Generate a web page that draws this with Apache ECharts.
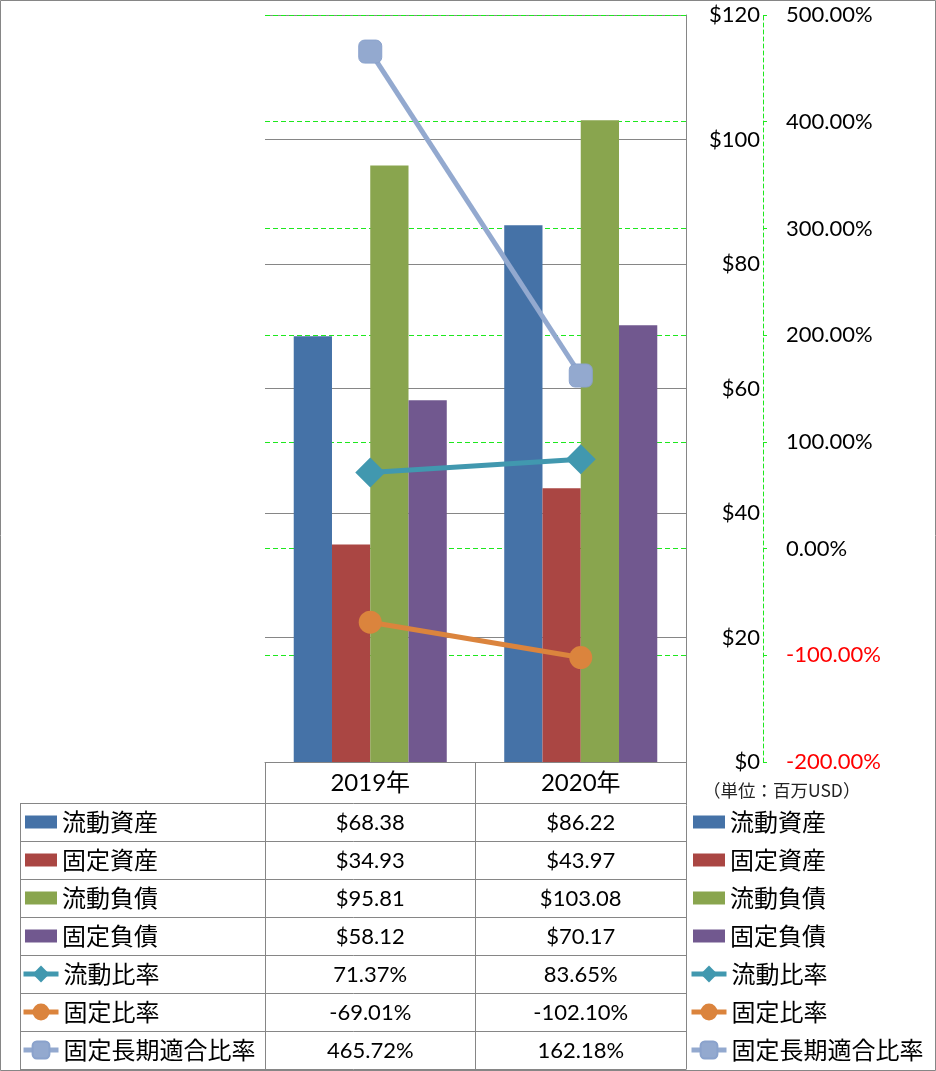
<!DOCTYPE html>
<html><head><meta charset="utf-8">
<script src="https://cdn.jsdelivr.net/npm/echarts@6/dist/echarts.min.js"></script>
<style>html,body{margin:0;padding:0;background:#fff}#c{width:936px;height:1071px}</style>
</head><body><div id="c"></div>
<script>
// ---- data ----
const categories = ['2019年', '2020年'];
const currentAssets = [68.38, 86.22];
const fixedAssets = [34.93, 43.97];
const currentLiabilities = [95.81, 103.08];
const fixedLiabilities = [58.12, 70.17];
const currentRatio = [71.37, 83.65];
const fixedRatio = [-69.01, -102.10];
const longTermFixedRatio = [465.72, 162.18];
const barNames = ['流動資産', '固定資産', '流動負債', '固定負債'];
const lineNames = ['流動比率', '固定比率', '固定長期適合比率'];
const unitLabel = '（単位：百万USD）';
const moneyTicks = { min: 0, max: 120, interval: 20 };
const pctTicks = { min: -200, max: 500, interval: 100 };

// ---- layout / style ----
const CJK = "'Noto Sans CJK JP'";
const LAT = "Lato, 'Noto Sans CJK JP'";
const GRAY = '#868686';
const GREEN = '#1ee81e';
const PL = 265, PR = 686, PT = 15, PB = 762;
const ROW0 = 803, ROWH = 38;
const colCenters = [PL + (PR - PL) / 4, PL + 3 * (PR - PL) / 4];
const barColors = ['#4572A7', '#AA4643', '#89A54E', '#71588F'];
const lineColors = ['#4198AF', '#DB843D', '#93A9CF'];

const barData = [currentAssets, fixedAssets, currentLiabilities, fixedLiabilities];
const lineData = [currentRatio, fixedRatio, longTermFixedRatio];
const symbols = ['diamond', 'circle', 'roundRect'];
const symbolSizes = [30, 23, 23];

const series = [];
barNames.forEach((n, i) => series.push({
  name: n, type: 'bar', data: barData[i], yAxisIndex: 0,
  barGap: '0%', barCategoryGap: '27.3%',
  itemStyle: { color: barColors[i] }
}));
lineNames.forEach((n, i) => series.push({
  name: n, type: 'line', data: lineData[i], yAxisIndex: 1, z: 5,
  symbol: symbols[i], symbolSize: symbolSizes[i],
  lineStyle: { color: lineColors[i], width: 5 },
  itemStyle: { color: lineColors[i], borderColor: i === 2 ? '#8aa2cc' : lineColors[i], borderWidth: i === 2 ? 1 : 0 }
}));

// table graphics
const graphic = [];
const ln = (x1, y1, x2, y2) => graphic.push({
  type: 'line', silent: true, z: 10,
  shape: { x1, y1, x2, y2 }, style: { stroke: GRAY, lineWidth: 1 }
});
for (let r = 0; r <= 7; r++) { const y = ROW0 + r * ROWH + 0.5; ln(20, y, PR + 0.5, y); }
ln(20.5, ROW0, 20.5, ROW0 + 7 * ROWH);
ln(PL + 0.5, PB, PL + 0.5, ROW0 + 7 * ROWH);
ln(475.5, PB, 475.5, ROW0 + 7 * ROWH);
ln(PR + 0.5, PT, PR + 0.5, ROW0 + 7 * ROWH);
graphic.push({ type: 'rect', silent: true, z: 10, shape: { x: 0.5, y: 0.5, width: 935, height: 1070 },
  style: { fill: 'none', stroke: GRAY, lineWidth: 1 } });

const fmtMoney = v => '$' + v.toFixed(2);
const fmtPct = v => v.toFixed(2) + '%';
const rows = barData.map(a => a.map(fmtMoney)).concat(lineData.map(a => a.map(fmtPct)));
rows.forEach((row, r) => row.forEach((t, c) => graphic.push({
  type: 'text', silent: true, z: 10,
  style: { text: t, x: colCenters[c], y: ROW0 + r * ROWH + 19.5, align: 'center', verticalAlign: 'middle',
    fontSize: 22, fontFamily: LAT, fill: '#000' }
})));
graphic.push({ type: 'text', silent: true, z: 10,
  style: { text: unitLabel, x: 703, y: 790, align: 'left', verticalAlign: 'middle',
    fontSize: 17.5, fontFamily: CJK, fill: '#222' } });

const legendText = { fontSize: 24, lineHeight: 24, fontFamily: CJK, color: '#000' };
const mkLegend = (data, left, top, w, h, icon) => Object.assign({
  data, left, top, orient: 'vertical', itemWidth: w, itemHeight: h, itemGap: 14,
  padding: 0, selectedMode: false, textStyle: legendText,
  lineStyle: { width: 5 }
}, icon ? { icon } : {});

const option = {
  animation: false,
  grid: { left: PL, right: 936 - PR, top: PT, bottom: 1071 - PB, containLabel: false },
  xAxis: {
    type: 'category', data: categories,
    axisLine: { show: true, lineStyle: { color: GRAY, width: 1 } },
    axisTick: { show: false },
    axisLabel: { fontSize: 24, fontFamily: LAT, color: '#000', margin: 9 }
  },
  yAxis: [
    {
      type: 'value', position: 'right', min: moneyTicks.min, max: moneyTicks.max, interval: moneyTicks.interval,
      axisLine: { show: true, lineStyle: { color: GRAY } },
      axisTick: { show: false },
      axisLabel: { formatter: v => '$' + v, align: 'right', margin: 74, fontSize: 22, fontFamily: LAT, color: '#000' },
      splitLine: { show: true, lineStyle: { color: GRAY, width: 1 } }
    },
    {
      type: 'value', position: 'right', offset: 77, min: pctTicks.min, max: pctTicks.max, interval: pctTicks.interval,
      axisLine: { show: true, lineStyle: { color: GREEN, type: [4, 3], width: 1 } },
      axisTick: { show: true, inside: false, length: 4, lineStyle: { color: GREEN } },
      axisLabel: { formatter: v => v.toFixed(2) + '%', margin: 23, fontSize: 22, fontFamily: LAT,
        color: v => (Number(v) < 0 ? '#ff0000' : '#000') },
      splitLine: { show: true, lineStyle: { color: GREEN, type: [5, 3], width: 1 } }
    }
  ],
  legend: [
    mkLegend(barNames, 25, ROW0 + 19 - 12, 32, 13, 'rect'),
    mkLegend(lineNames, 21, ROW0 + 4 * ROWH + 19 - 12, 35, 21),
    mkLegend(barNames, 693, ROW0 + 19 - 12, 32, 13, 'rect'),
    mkLegend(lineNames, 689, ROW0 + 4 * ROWH + 19 - 12, 35, 21)
  ],
  graphic,
  series
};
const chart = echarts.init(document.getElementById('c'), null, { renderer: 'canvas' });
chart.setOption(option);
</script></body></html>
